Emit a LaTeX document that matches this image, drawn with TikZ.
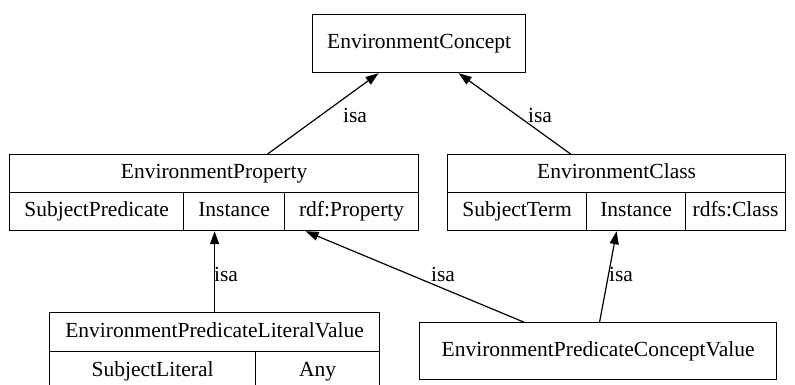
\documentclass[tikz,border=0pt]{standalone}
\usepackage{fontspec}
\setmainfont{Liberation Serif}
\usetikzlibrary{arrows.meta}
\begin{document}
\begin{tikzpicture}[x=1pt,y=-1pt,
  cell/.style={draw,line width=1.2pt,inner sep=0pt,anchor=north west,text height=14.5pt,text depth=4.5pt,font=\fontsize{21.5}{24}\selectfont},
  lbl/.style={inner sep=0pt,font=\fontsize{21.5}{24}\selectfont},
  isaedge/.style={line width=1.2pt,-{Triangle[length=13pt,width=9pt]}}]
\useasboundingbox (0,0) rectangle (795,384);
\clip (0,0) rectangle (795,384);
% EnvironmentConcept
\node[cell,minimum width=213pt,minimum height=58pt] (conc) at (312,14) {EnvironmentConcept};
% EnvironmentProperty
\node[cell,minimum width=409pt,minimum height=38pt] (prop) at (9,154) {EnvironmentProperty};
\node[cell,minimum width=174pt,minimum height=38pt] (propA) at (9,192) {SubjectPredicate};
\node[cell,minimum width=101pt,minimum height=38pt] (propB) at (183,192) {Instance};
\node[cell,minimum width=134pt,minimum height=38pt] (propC) at (284,192) {rdf:Property};
% EnvironmentClass
\node[cell,minimum width=338pt,minimum height=38pt] (cls) at (447,154) {EnvironmentClass};
\node[cell,minimum width=139pt,minimum height=38pt] (clsA) at (447,192) {SubjectTerm};
\node[cell,minimum width=99pt,minimum height=38pt] (clsB) at (586,192) {Instance};
\node[cell,minimum width=100pt,minimum height=38pt] (clsC) at (685,192) {rdfs:Class};
% EnvironmentPredicateLiteralValue
\node[cell,minimum width=330pt,minimum height=39pt] (lit) at (49,312) {EnvironmentPredicateLiteralValue};
\node[cell,minimum width=206pt,minimum height=39pt] (litA) at (49,351) {SubjectLiteral};
\node[cell,minimum width=124pt,minimum height=39pt] (litB) at (255,351) {Any};
% EnvironmentPredicateConceptValue
\node[cell,minimum width=357pt,minimum height=57pt] (cv) at (419,322) {EnvironmentPredicateConceptValue};
% edges
\draw[isaedge] ([xshift=53.5pt]prop.north) -- ([xshift=-40.5pt]conc.south);
\draw[isaedge] ([xshift=-46pt]cls.north) -- ([xshift=39.5pt]conc.south);
\draw[isaedge] (lit.north) -- (lit.north |- propB.south);
\draw[isaedge] ([xshift=-74.5pt]cv.north) -- ([xshift=-46pt]propC.south);
\draw[isaedge] ([xshift=1.5pt]cv.north) -- ([xshift=-19.5pt]clsB.south);
% labels
\node[lbl] (l1) at (355,115) {isa};
\node[lbl] (l2) at (540,115) {isa};
\node[lbl] (l3) at (226,274) {isa};
\node[lbl] (l4) at (443,274) {isa};
\node[lbl] (l5) at (621,274) {isa};
\end{tikzpicture}
\end{document}
